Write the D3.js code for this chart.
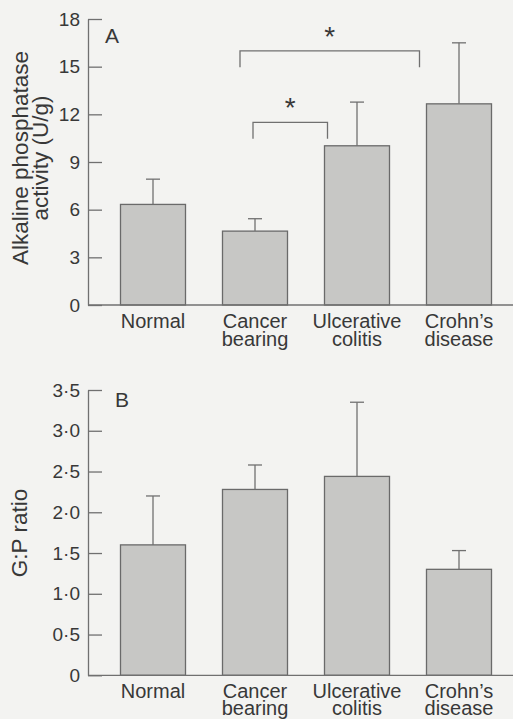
<!DOCTYPE html>
<html lang="en">
<head>
  <meta charset="UTF-8">
  <title>Alkaline phosphatase and G:P ratio</title>
  <script src="https://d3js.org/d3.v7.min.js"></script>
  <style>
    html, body { margin: 0; padding: 0; background: #f3f3f1; }
    svg text { font-family: "Liberation Sans", Arial, sans-serif; fill: #383838; }
  </style>
</head>
<body>
  <script>
    // 1. Data
    const categories = ["Normal", "Cancer bearing", "Ulcerative colitis", "Crohn\u2019s disease"];
    const catLines = [["Normal"], ["Cancer", "bearing"], ["Ulcerative", "colitis"], ["Crohn\u2019s", "disease"]];

    const alpMean = [6.33, 4.65, 10.02, 12.66];
    const alpErr  = [7.92, 5.43, 12.77, 16.5];
    const alpTicks = [0, 3, 6, 9, 12, 15, 18];

    const gpMean = [1.6, 2.28, 2.44, 1.3];
    const gpErr  = [2.2, 2.58, 3.35, 1.53];
    const gpTicks = [0, 0.5, 1, 1.5, 2, 2.5, 3, 3.5];

    // significance brackets in panel A: [from, to, level]
    const sigBrackets = [
      ["Cancer bearing", "Ulcerative colitis", 11.5],
      ["Cancer bearing", "Crohn\u2019s disease", 16]
    ];

    // 2. SVG
    const width = 513, height = 719;
    const svg = d3.select("body")
                  .append("svg")
                  .attr("width", width)
                  .attr("height", height);

    const ink = "#707070";
    const x = d3.scalePoint()
                .domain(categories)
                .range([153, 459]);
    const barW = 65;

    function panel(opts) {
      const y = d3.scaleLinear()
                  .domain(opts.domain)
                  .range([opts.bottom, opts.top]);

      const g = svg.append("g");

      // bars
      g.selectAll("rect.bar")
       .data(opts.mean)
       .join("rect")
       .attr("x", (d, i) => x(categories[i]) - barW / 2)
       .attr("y", d => y(d))
       .attr("width", barW)
       .attr("height", d => y(0) - y(d))
       .attr("fill", "#c7c7c5")
       .attr("stroke", "#6a6a6a")
       .attr("stroke-width", 1.3);

      // error bars (upper only)
      opts.err.forEach((e, i) => {
        const cx = x(categories[i]);
        g.append("line")
         .attr("x1", cx).attr("x2", cx)
         .attr("y1", y(opts.mean[i])).attr("y2", y(e))
         .attr("stroke", ink).attr("stroke-width", 1.3);
        g.append("line")
         .attr("x1", cx - 7).attr("x2", cx + 7)
         .attr("y1", y(e)).attr("y2", y(e))
         .attr("stroke", ink).attr("stroke-width", 1.3);
      });

      // y axis, ticks pointing inwards
      const ax = g.append("g")
                  .attr("transform", `translate(88,0)`)
                  .call(d3.axisLeft(y)
                          .tickValues(opts.ticks)
                          .tickSizeInner(-14)
                          .tickSizeOuter(0)
                          .tickPadding(8)
                          .tickFormat(opts.fmt));
      ax.select(".domain").attr("stroke", ink).attr("stroke-width", 1.3);
      ax.selectAll(".tick line").attr("stroke", ink).attr("stroke-width", 1.3);
      ax.selectAll(".tick text")
        .style("font-size", "19px")
        .attr("fill", "#383838");

      // x baseline
      g.append("line")
       .attr("x1", 88).attr("x2", width)
       .attr("y1", y(0)).attr("y2", y(0))
       .attr("stroke", ink).attr("stroke-width", 1.3);

      // category labels
      catLines.forEach((lines, i) => {
        const t = g.append("text")
                   .attr("text-anchor", "middle")
                   .style("font-size", "20px");
        lines.forEach((s, j) => {
          t.append("tspan")
           .attr("x", x(categories[i]))
           .attr("y", opts.labelY + j * 17.5)
           .text(s);
        });
      });

      // panel letter
      g.append("text")
       .attr("x", opts.letterX)
       .attr("y", opts.letterY)
       .style("font-size", "21px")
       .text(opts.letter);

      // y title
      const tt = g.append("text")
                  .attr("transform", `translate(${opts.titleX},${opts.titleY}) rotate(-90)`)
                  .attr("text-anchor", "middle")
                  .style("font-size", "22.5px");
      opts.title.forEach((s, j) => {
        tt.append("tspan").attr("x", 0).attr("y", j * 19.5).text(s);
      });

      return { g, y };
    }

    // 3. Panel A
    const A = panel({
      domain: [0, 18], top: 19, bottom: 305,
      mean: alpMean, err: alpErr, ticks: alpTicks,
      fmt: d3.format("d"),
      labelY: 328, letter: "A", letterX: 105, letterY: 43,
      title: ["Alkaline phosphatase", "activity (U/g)"], titleX: 28, titleY: 158
    });

    // significance brackets
    sigBrackets.forEach(([a, b, lvl], k) => {
      const x1 = k === 0 ? x(a) - 2 : x(a) - 15;
      const x2 = x(b) - barW / 2 - (k === 0 ? -3 : 7);
      const yt = A.y(lvl), yb = yt + 16.5;
      A.g.append("path")
         .attr("d", `M${x1},${yb}V${yt}H${x2}V${yb}`)
         .attr("fill", "none")
         .attr("stroke", ink)
         .attr("stroke-width", 1.3);
      A.g.append("text")
         .attr("x", (x1 + x2) / 2)
         .attr("y", yt - 5)
         .attr("text-anchor", "middle")
         .style("font-size", "28px")
         .text("*");
    });

    // 4. Panel B
    panel({
      domain: [0, 3.5], top: 390, bottom: 675.3,
      mean: gpMean, err: gpErr, ticks: gpTicks,
      fmt: d => d === 0 ? "0" : d.toFixed(1).replace(".", "\u00b7"),
      labelY: 697.5, letter: "B", letterX: 115, letterY: 407,
      title: ["G:P ratio"], titleX: 27, titleY: 533
    });
  </script>
</body>
</html>
